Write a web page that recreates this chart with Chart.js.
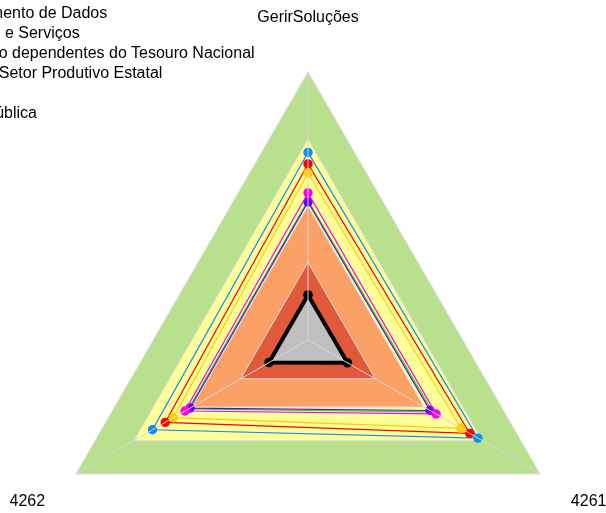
<!DOCTYPE html>
<html lang="pt">
<head>
    <meta charset="UTF-8">
    <title>GerirSoluções</title>
    <script src="https://cdn.jsdelivr.net/npm/chart.js"></script>
</head>
<style>
    body {
    margin: 0;
    width: 606px;
    height: 513px;
    overflow: hidden;
    position: relative;
    background: #fff;
    font-family: "Liberation Sans", Arial, sans-serif;
}

#radar {
    position: absolute;
    left: -23px;
    top: -24px;
}

#legend {
    position: absolute;
    left: -215.6px;
    top: 2.5px;
    font-size: 16px;
    line-height: 20.2px;
    color: #000;
}

.item {
    position: relative;
    white-space: nowrap;
    height: 20.2px;
}

.mark {
    position: absolute;
    left: -30px;
    top: 9px;
    width: 22px;
    height: 2px;
}
</style>
<body>
    <canvas id="radar" width="664" height="664"></canvas>
    <div id="legend"></div>
    <script>
// axes of the radar
const axisLabels = ['GerirSoluções', '4261', '4262'];

// series shown in the legend
const seriesNames = [
    'Serviço Federal de Processamento de Dados',
    'Produção, Indústria, Comércio e Serviços',
    'Demais Empresas Estatais não dependentes do Tesouro Nacional',
    'Programa de Investimento do Setor Produtivo Estatal',
    'Média',
    'Ministério da Administração Pública'
];
const seriesColors = ['#0a8cff', '#ff0000', '#ffcc00', '#ff00ee', '#6200ff', '#22dd22'];

// values (scale 0 - 1)
const processamentoDados = [0.70, 0.732, 0.67];
const comercioServicos = [0.657, 0.697, 0.615];
const naoDependentes = [0.623, 0.659, 0.58];
const setorProdutivo = [0.549, 0.552, 0.53];
const media = [0.515, 0.526, 0.508];
const administracaoPublica = [0.521, 0.537, 0.515];
const referencia = [0.168, 0.17, 0.168];

// background bands
const faixaVerde = [1, 1, 1];
const faixaAmarela = [0.75, 0.75, 0.75];
const faixaLaranja = [0.5, 0.5, 0.5];
const faixaVermelha = [0.29, 0.29, 0.29];

const seriesValues = [processamentoDados, comercioServicos, naoDependentes, setorProdutivo, media, administracaoPublica];

// legend
const legend = document.getElementById('legend');
seriesNames.forEach((name, i) => {
    const row = document.createElement('div');
    row.className = 'item';
    row.innerHTML = `<span class="mark" style="background:${seriesColors[i]}"></span>${name}`;
    legend.appendChild(row);
});

function serie(i) {
    return {
        label: seriesNames[i],
        data: seriesValues[i],
        borderColor: seriesColors[i],
        backgroundColor: seriesColors[i],
        pointBackgroundColor: seriesColors[i],
        borderWidth: 1.2,
        pointRadius: i === 5 ? 3 : 4.7,
        pointBorderWidth: 0,
        fill: false
    };
}

function faixa(label, data, color) {
    return {
        label: label,
        data: data,
        borderColor: '#dcdcdc',
        borderWidth: 1,
        backgroundColor: color,
        pointRadius: 0,
        fill: true
    };
}

// first dataset is drawn on top
const datasets = [
    {
        label: 'Referência',
        data: referencia,
        borderColor: '#000',
        borderWidth: 4,
        backgroundColor: '#bfbfbf',
        pointBackgroundColor: '#000',
        pointRadius: 4.8,
        pointBorderWidth: 0,
        fill: true
    },
    serie(3), serie(4), serie(5), serie(2), serie(1), serie(0),
    faixa('Crítico', faixaVermelha, '#e2583a'),
    faixa('Baixo', faixaLaranja, '#fba067'),
    faixa('Médio', faixaAmarela, '#ffff99'),
    faixa('Alto', faixaVerde, '#b9e08c')
];

new Chart(document.getElementById('radar'), {
    type: 'radar',
    data: {
        labels: axisLabels,
        datasets: datasets
    },
    options: {
        responsive: false,
        animation: false,
        events: [],
        elements: { line: { tension: 0 } },
        plugins: {
            legend: { display: false },
            tooltip: { enabled: false }
        },
        scales: {
            r: {
                min: 0,
                max: 1,
                ticks: { display: false },
                grid: { display: false, z: 1 },
                angleLines: { color: '#d6d6d6', lineWidth: 1 },
                pointLabels: {
                    color: '#000',
                    font: { family: '"Liberation Sans", Arial, sans-serif', size: 16 },
                    padding: (ctx) => ctx.index === 0 ? 44.8 : 35.5
                }
            }
        }
    }
});
    </script>
</body>
</html>
